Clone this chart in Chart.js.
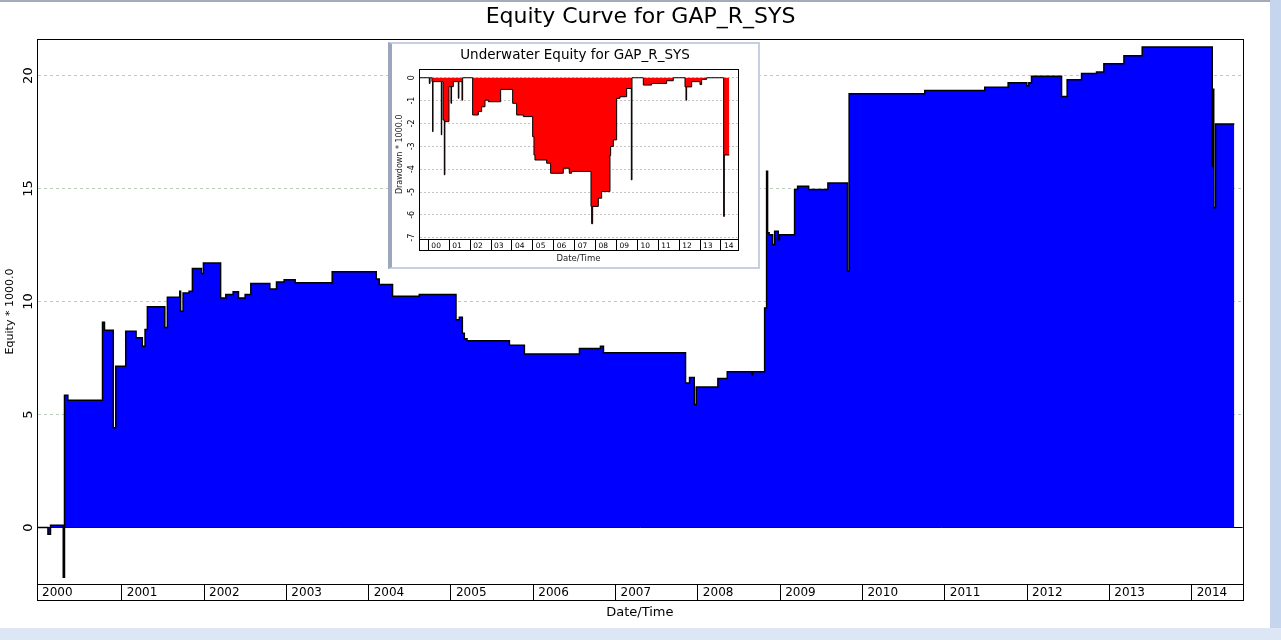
<!DOCTYPE html>
<html>
<head>
<meta charset="utf-8">
<title>Equity Curve for GAP_R_SYS</title>
<style>
  body { margin: 0; background: #fff; }
  #wrap { position: relative; width: 1281px; height: 640px; overflow: hidden; background: #fff; }
  #main { position: absolute; left: 0; top: 0; }
  #inset { position: absolute; left: 388px; top: 42px; width: 366px; height: 223px;
           border: 2px solid #c6d0e2; border-left: 4px solid #9ca6bc; background: #fff; }
  #inset canvas { position: absolute; left: 0; top: 0; }
  .edge-top { position: absolute; left: 0; top: 0; width: 1281px; height: 2px; background: #a4abb8; }
  .edge-right { position: absolute; right: 0; top: 0; width: 11px; height: 640px; background: #c5d5ee; }
  .edge-bottom { position: absolute; left: 0; bottom: 0; width: 1281px; height: 12px; background: #dde6f4; }
</style>
</head>
<body>
<div id="wrap">
  <canvas id="main" width="1281" height="640"></canvas>
  <div id="inset"><canvas id="under" width="366" height="223"></canvas></div>
  <div class="edge-top"></div>
  <div class="edge-right"></div>
  <div class="edge-bottom"></div>
</div>

<script src="https://cdn.jsdelivr.net/npm/chart.js"></script>
<script>
// equity curve (decimal year, equity / 1000)
const equityDates = [
  1999.970, 2000.103, 2000.134, 2000.289, 2000.304, 2000.345, 2000.766, 2000.790, 2000.897, 2000.927,
  2001.048, 2001.174, 2001.250, 2001.283, 2001.311, 2001.523, 2001.554, 2001.705, 2001.715, 2001.745,
  2001.818, 2001.858, 2001.968, 2001.992, 2002.201, 2002.264, 2002.353, 2002.418, 2002.499, 2002.568,
  2002.799, 2002.880, 2002.973, 2003.107, 2003.557, 2004.092, 2004.128, 2004.290, 2004.615, 2005.061,
  2005.102, 2005.138, 2005.162, 2005.195, 2005.710, 2005.892, 2006.561, 2006.816, 2006.853, 2007.850,
  2007.899, 2007.956, 2007.980, 2008.243, 2008.357, 2008.653, 2008.665, 2008.811, 2008.835, 2008.847,
  2008.866, 2008.908, 2008.933, 2008.977, 2008.993, 2009.175, 2009.212, 2009.346, 2009.580, 2009.817,
  2009.838, 2010.757, 2011.486, 2011.770, 2011.997, 2012.021, 2012.054, 2012.419, 2012.487, 2012.662,
  2012.844, 2012.933, 2013.177, 2013.399, 2014.250, 2014.262, 2014.268, 2014.290, 2014.518
];
const equityValues = [
  0, -0.3, 0.1, -2.2, 5.85, 5.63, 9.08, 8.73, 4.41, 7.14,
  8.69, 8.40, 8.02, 8.76, 9.77, 8.85, 10.19, 10.46, 9.57, 10.38,
  10.46, 11.46, 11.24, 11.71, 10.16, 10.31, 10.43, 10.16, 10.31, 10.80,
  10.56, 10.87, 10.97, 10.83, 11.32, 11.0, 10.75, 10.24, 10.31, 9.20,
  9.30, 8.60, 8.35, 8.27, 8.07, 7.68, 7.92, 8.02, 7.73, 6.40,
  6.64, 5.44, 6.22, 6.59, 6.89, 6.75, 6.89, 9.72, 15.77, 13.04,
  12.96, 12.52, 13.11, 12.74, 12.96, 14.96, 15.10, 14.96, 15.25, 11.34,
  19.20, 19.34, 19.48, 19.68, 19.55, 19.68, 19.97, 19.08, 19.82, 20.09,
  20.16, 20.53, 20.88, 21.27, 16.0, 19.4, 14.15, 17.86, 17.86
];
const yearTicks = [2000, 2001, 2002, 2003, 2004, 2005, 2006, 2007, 2008, 2009, 2010, 2011, 2012, 2013, 2014];
const equityTicks = [0, 5, 10, 15, 20];

// underwater equity (drawdown / 1000)
const ddDates = [
  1999.566, 2000.045, 2000.080, 2000.172, 2000.204, 2000.220, 2000.619, 2000.640, 2000.700, 2000.762,
  2000.790, 2000.986, 2001.081, 2001.110, 2001.193, 2001.432, 2001.460, 2001.608, 2001.640, 2002.118,
  2002.389, 2002.549, 2002.708, 2002.868, 2003.458, 2004.032, 2004.223, 2004.542, 2004.989, 2005.052,
  2005.100, 2005.659, 2005.850, 2006.456, 2006.743, 2006.855, 2007.780, 2007.812, 2007.860, 2008.131,
  2008.290, 2008.689, 2008.721, 2008.849, 2009.008, 2009.168, 2009.487, 2009.710, 2009.742, 2010.284,
  2010.683, 2011.400, 2011.719, 2012.278, 2012.325, 2012.357, 2012.597, 2012.995, 2013.075, 2013.314,
  2014.128, 2014.160, 2014.399
];
const ddValues = [
  0, -0.25, 0, -0.17, -2.36, -0.17, -2.5, -0.17, -1.85, -4.25,
  -1.92, -0.39, -1.12, -0.39, -0.17, -0.9, -0.17, -0.98, 0, -1.63,
  -1.48, -1.27, -0.98, -1.05, -0.51, -1.12, -1.63, -1.70, -2.58, -3.38,
  -3.60, -3.74, -4.18, -3.96, -4.18, -4.10, -5.63, -6.39, -5.63, -5.27,
  -4.98, -3.40, -3.01, -2.72, -0.90, -0.83, -0.47, -4.47, 0, -0.32,
  -0.25, -0.13, 0, -0.40, -0.98, -0.40, -0.17, -0.30, -0.07, 0,
  -6.07, -3.38, -3.38
];
const ddYearLabels = ['00', '01', '02', '03', '04', '05', '06', '07', '08', '09', '10', '11', '12', '13', '14'];
const ddTicks = [0, -1, -2, -3, -4, -5, -6, -7];

const FONT = 'DejaVu Sans';

// box around the plot and the year band under it
const framePlugin = {
  id: 'frame',
  afterDraw(chart, args, opts) {
    const {ctx, chartArea: a} = chart;
    const l = Math.round(a.left) + 0.5, r = Math.round(a.right) + 0.5;
    const t = Math.round(a.top) + 0.5, b = Math.round(a.bottom) + 0.5;
    ctx.save();
    ctx.strokeStyle = '#000';
    ctx.lineWidth = 1;
    ctx.strokeRect(l, t, r - l, b - t);
    ctx.strokeRect(l, b, r - l, Math.round(opts.band));
    ctx.restore();
  }
};

new Chart(document.getElementById('main'), {
  type: 'line',
  data: {
    datasets: [{
      data: equityDates.map((d, i) => ({x: d, y: equityValues[i]})),
      stepped: true,
      fill: 'origin',
      backgroundColor: '#0000ff',
      borderColor: '#000',
      borderWidth: 1.5,
      pointRadius: 0
    }]
  },
  options: {
    responsive: false,
    animation: false,
    devicePixelRatio: 1,
    layout: {padding: 0},
    plugins: {
      legend: {display: false},
      tooltip: {enabled: false},
      title: {
        display: true,
        text: 'Equity Curve for GAP_R_SYS',
        color: '#000',
        font: {family: FONT, size: 22, weight: 'normal'},
        padding: {top: 3.8, bottom: 8.8}
      },
      frame: {band: 16}
    },
    scales: {
      x: {
        type: 'linear',
        min: 1999.97,
        max: 2014.62,
        afterBuildTicks: s => { s.ticks = yearTicks.map((y, i) => ({value: i === 0 ? s.min : y})); },
        afterFit: s => { s.height = 56; },
        grid: {drawOnChartArea: false, tickLength: 16, color: '#000'},
        border: {display: false},
        ticks: {
          autoSkip: false, maxRotation: 0, align: 'start', labelOffset: 5, padding: -14,
          color: '#000', font: {family: FONT, size: 12},
          callback: (v, i) => String(yearTicks[i])
        },
        title: {display: true, text: 'Date/Time', color: '#000',
                font: {family: FONT, size: 13}, padding: {top: 0, bottom: 20}}
      },
      y: {
        min: -2.5,
        max: 21.62,
        afterBuildTicks: s => { s.ticks = equityTicks.map(v => ({value: v})); },
        afterFit: s => { s.width = 37; },
        grid: {
          drawTicks: false,
          color: c => (c.tick && c.tick.value === 0) ? '#000' : '#bccbbc',
          lineWidth: 1
        },
        border: {display: true, color: '#000', dash: c => (c.tick && c.tick.value === 0) ? [] : [3, 3]},
        ticks: {minRotation: 90, maxRotation: 90, crossAlign: 'center', padding: 0,
                color: '#000', font: {family: FONT, size: 13}},
        title: {display: true, text: 'Equity * 1000.0', color: '#000',
                font: {family: FONT, size: 11}, padding: {top: 3.5, bottom: 0}}
      },
      yR: {
        type: 'linear',
        position: 'right',
        afterFit: s => { s.width = 38.3; },
        grid: {display: false},
        border: {display: false},
        ticks: {display: false}
      }
    }
  },
  plugins: [framePlugin]
});

new Chart(document.getElementById('under'), {
  type: 'line',
  data: {
    datasets: [{
      data: ddDates.map((d, i) => ({x: d, y: ddValues[i]})),
      stepped: true,
      fill: 'origin',
      backgroundColor: '#ff0000',
      borderColor: '#000',
      borderWidth: 1,
      pointRadius: 0
    }]
  },
  options: {
    responsive: false,
    animation: false,
    devicePixelRatio: 1,
    layout: {padding: 0},
    plugins: {
      legend: {display: false},
      tooltip: {enabled: false},
      title: {
        display: true,
        text: 'Underwater Equity for GAP_R_SYS',
        color: '#000',
        font: {family: FONT, size: 13.5, weight: 'normal'},
        padding: {top: 2.9, bottom: 6.2}
      },
      frame: {band: 11.4}
    },
    scales: {
      x: {
        type: 'linear',
        min: 1999.566,
        max: 2014.80,
        afterBuildTicks: s => { s.ticks = [s.min].concat(yearTicks).map(v => ({value: v})); },
        afterFit: s => { s.height = 27.7; },
        grid: {drawOnChartArea: false, tickLength: 11.4, color: '#000'},
        border: {display: false},
        ticks: {
          autoSkip: false, maxRotation: 0, align: 'start', labelOffset: 3, padding: -9.4,
          color: '#000', font: {family: FONT, size: 7.5},
          callback: (v, i) => i === 0 ? '' : ddYearLabels[i - 1]
        },
        title: {display: true, text: 'Date/Time', color: '#222',
                font: {family: FONT, size: 8.5}, padding: {top: 0, bottom: 2.9}}
      },
      y: {
        min: -7.07,
        max: 0.37,
        afterBuildTicks: s => { s.ticks = ddTicks.map(v => ({value: v})); },
        afterFit: s => { s.width = 27.3; },
        grid: {drawTicks: false, color: '#c4c4c4', lineWidth: 1},
        border: {display: true, color: '#000', dash: [2, 2]},
        ticks: {minRotation: 90, maxRotation: 90, crossAlign: 'center', padding: 3,
                color: '#000', font: {family: FONT, size: 8}},
        title: {display: true, text: 'Drawdown * 1000.0', color: '#222',
                font: {family: FONT, size: 8}, padding: {top: 3.2, bottom: 0}}
      },
      yR: {
        type: 'linear',
        position: 'right',
        afterFit: s => { s.width = 20.3; },
        grid: {display: false},
        border: {display: false},
        ticks: {display: false}
      }
    }
  },
  plugins: [framePlugin]
});
</script>
</body>
</html>
